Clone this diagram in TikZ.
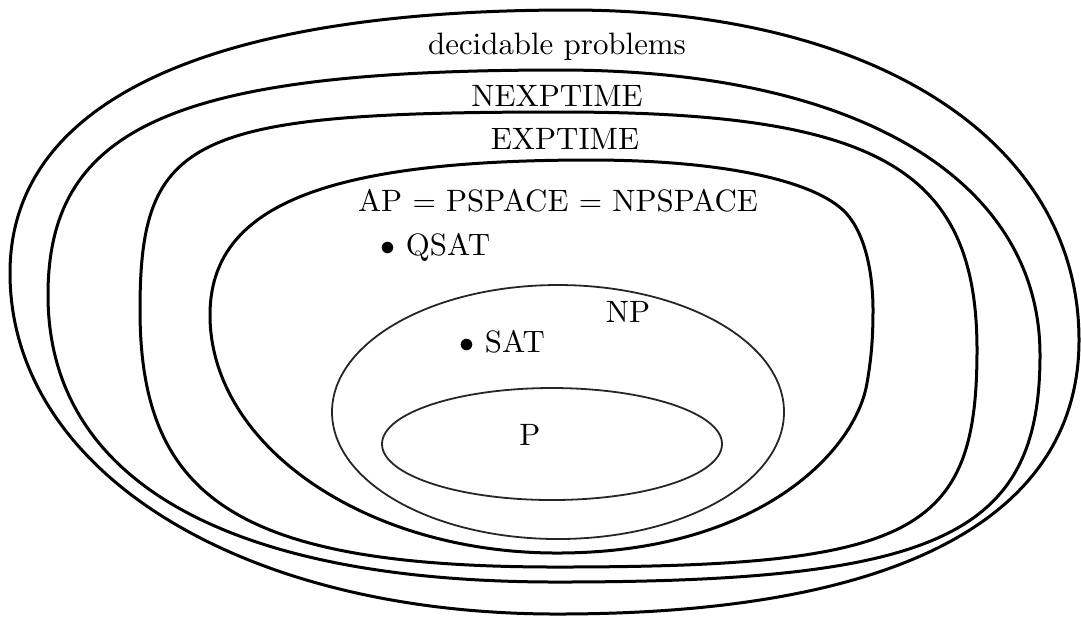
\documentclass[tikz,border=0pt]{standalone}
\begin{document}
\begin{tikzpicture}[x=0.33333pt, y=-0.33333pt,
  region/.style={line width=1pt, black},
  thinregion/.style={line width=0.6pt, black!85},
  lbl/.style={inner sep=0pt, font=\fontsize{10.3}{12}\selectfont}]
\useasboundingbox (0,0) rectangle (1081,617);
% decidable problems
\draw[region] (570,10) .. controls (877,10) and (1079,142) .. (1079,340)
  .. controls (1079,518) and (898,614) .. (557,614)
  .. controls (240,614) and (10,471) .. (10,273)
  .. controls (10,102) and (206,10) .. (570,10) -- cycle;
% NEXPTIME
\draw[region] (560,70) .. controls (858,70) and (1040,180) .. (1040,355)
  .. controls (1040,535) and (940,582) .. (557,582)
  .. controls (226,582) and (48,480) .. (48,295)
  .. controls (48,126) and (176,70) .. (560,70) -- cycle;
% EXPTIME
\draw[region] (560,112) .. controls (877,112) and (977,168) .. (977,350)
  .. controls (977,534) and (914,567) .. (557,567)
  .. controls (240,567) and (140,500) .. (140,310)
  .. controls (140,136) and (190,112) .. (560,112) -- cycle;
% AP = PSPACE = NPSPACE
\draw[region] (590,160) .. controls (720,160) and (815,180) .. (846,213)
  .. controls (866,235) and (873,275) .. (873,310)
  .. controls (873,340) and (871,360) .. (867,383)
  .. controls (856,450) and (760,553) .. (557,553)
  .. controls (366,553) and (210,446) .. (210,315)
  .. controls (210,206) and (324,160) .. (590,160) -- cycle;
% NP and P
\draw[thinregion] (558,412) ellipse [x radius=226, y radius=127];
\draw[thinregion] (552,444) ellipse [x radius=170, y radius=56];
% labels
\node[lbl, anchor=base] (dec) at (557,54) {decidable problems};
\node[lbl, anchor=base] (nexp) at (557,106) {NEXPTIME};
\node[lbl, anchor=base] (exp) at (565,149) {EXPTIME};
\node[lbl, anchor=base] (ps) at (558,211) {AP $=$ PSPACE $=$ NPSPACE};
\node[lbl, anchor=base west] (qsat) at (380,255) {$\bullet$ QSAT};
\node[lbl, anchor=base] (np) at (628,322) {NP};
\node[lbl, anchor=base west] (sat) at (459,352) {$\bullet$ SAT};
\node[lbl, anchor=base] (p) at (530,445) {P};
\end{tikzpicture}
\end{document}
